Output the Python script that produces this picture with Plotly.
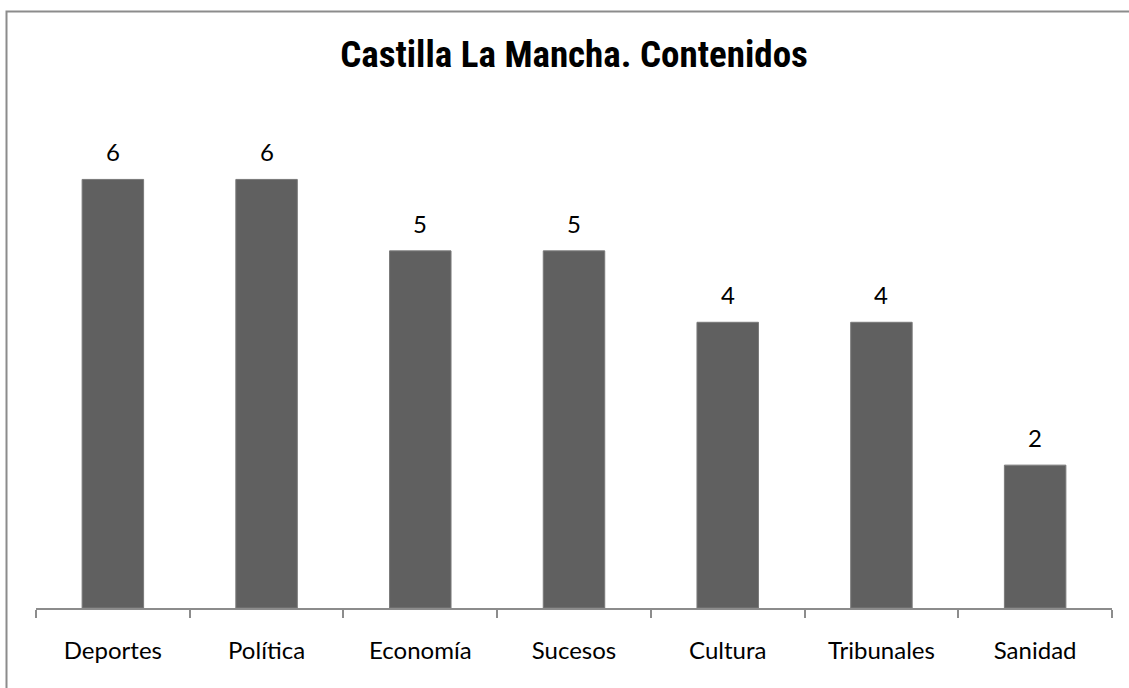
import plotly.graph_objects as go

# chart data
categories = ["Deportes", "Política", "Economía", "Sucesos", "Cultura", "Tribunales", "Sanidad"]
values = [6, 6, 5, 5, 4, 4, 2]
title_text = "Castilla La Mancha. Contenidos"

W, H = 1129, 688
ML, MR, MT, MB = 36, 17, 108, 80

fig = go.Figure()
fig.add_trace(go.Bar(
    x=categories,
    y=values,
    marker=dict(color="#606060", line=dict(color="#7a7a7a", width=1)),
    width=0.4,
    showlegend=False,
    hoverinfo="x+y",
))

# data labels above the bars
for cat, val in zip(categories, values):
    fig.add_annotation(
        x=cat, y=val, text=str(val), showarrow=False,
        yanchor="bottom", yshift=11,
        font=dict(family="Lato, Open Sans, sans-serif", size=24, color="#000000"),
    )

# outer frame of the chart (extends past the right/bottom edge like the source)
pw = W - ML - MR
ph = H - MT - MB
fig.add_shape(
    type="rect", xref="paper", yref="paper", layer="below",
    x0=(6.5 - ML) / pw, x1=(W + 5 - ML) / pw,
    y0=-(H + 5 - (H - MB)) / ph, y1=(H - MB - 11.5) / ph,
    line=dict(color="#8c8c8c", width=2), fillcolor="rgba(0,0,0,0)",
)

fig.update_layout(
    width=W, height=H,
    margin=dict(l=ML, r=MR, t=MT, b=MB),
    paper_bgcolor="white",
    plot_bgcolor="white",
    title=dict(
        text="<b>" + title_text + "</b>",
        x=(574 / W), xanchor="center",
        y=1 - 54 / H, yanchor="middle",
        font=dict(family="Roboto Condensed, DejaVu Sans Condensed, sans-serif", size=37, color="#000000"),
    ),
    bargap=0.6,
    xaxis=dict(
        showline=True, linecolor="#8c8c8c", linewidth=1.5,
        ticks="outside", ticklen=8, tickcolor="#8c8c8c", tickwidth=1.5,
        tickson="boundaries",
        showgrid=False,
        tickfont=dict(family="Lato, Open Sans, sans-serif", size=24, color="#000000"),
        ticklabelstandoff=20,
    ),
    yaxis=dict(
        range=[0, 7], visible=False, showgrid=False, zeroline=False,
    ),
)

fig.write_html("out.html", config={"displayModeBar": False},
               post_script="document.body.style.margin='0';")
